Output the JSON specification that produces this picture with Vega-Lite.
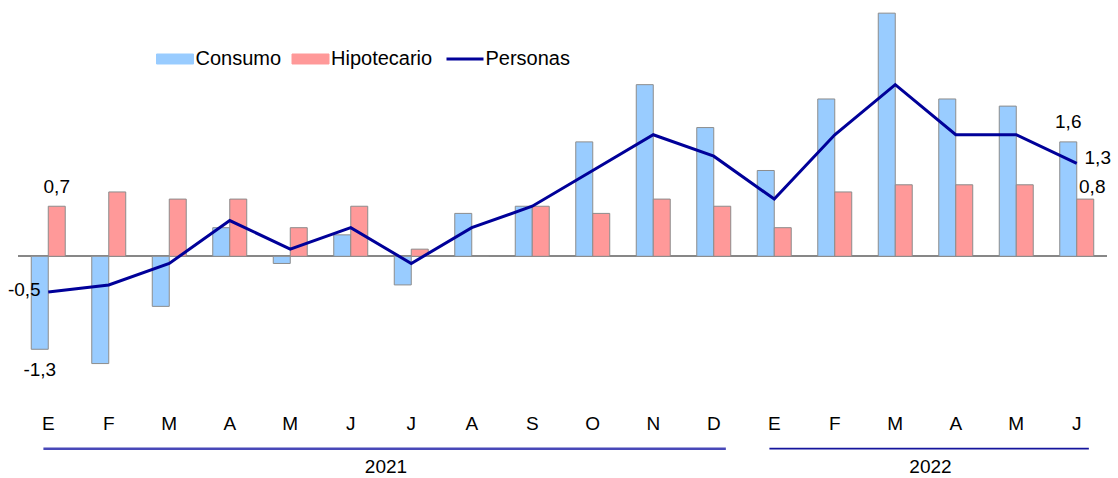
{
  "$schema": "https://vega.github.io/schema/vega-lite/v6.json",
  "width": 1089,
  "height": 472,
  "autosize": "none",
  "padding": {"left": 18, "top": 6, "right": 11, "bottom": 0},
  "config": {
    "view": {"stroke": null},
    "font": "Liberation Sans",
    "locale": {"number": {"decimal": ",", "thousands": ".", "grouping": [3], "currency": ["", " €"], "minus": "-"}}
  },
  "datasets": {
    "meses": [
      {"t": "2021-01", "letra": "E", "Consumo": -1.3, "Hipotecario": 0.7, "Personas": -0.5},
      {"t": "2021-02", "letra": "F", "Consumo": -1.5, "Hipotecario": 0.9, "Personas": -0.4},
      {"t": "2021-03", "letra": "M", "Consumo": -0.7, "Hipotecario": 0.8, "Personas": -0.1},
      {"t": "2021-04", "letra": "A", "Consumo": 0.4, "Hipotecario": 0.8, "Personas": 0.5},
      {"t": "2021-05", "letra": "M", "Consumo": -0.1, "Hipotecario": 0.4, "Personas": 0.1},
      {"t": "2021-06", "letra": "J", "Consumo": 0.3, "Hipotecario": 0.7, "Personas": 0.4},
      {"t": "2021-07", "letra": "J", "Consumo": -0.4, "Hipotecario": 0.1, "Personas": -0.1},
      {"t": "2021-08", "letra": "A", "Consumo": 0.6, "Hipotecario": 0.0, "Personas": 0.4},
      {"t": "2021-09", "letra": "S", "Consumo": 0.7, "Hipotecario": 0.7, "Personas": 0.7},
      {"t": "2021-10", "letra": "O", "Consumo": 1.6, "Hipotecario": 0.6, "Personas": 1.2},
      {"t": "2021-11", "letra": "N", "Consumo": 2.4, "Hipotecario": 0.8, "Personas": 1.7},
      {"t": "2021-12", "letra": "D", "Consumo": 1.8, "Hipotecario": 0.7, "Personas": 1.4},
      {"t": "2022-01", "letra": "E", "Consumo": 1.2, "Hipotecario": 0.4, "Personas": 0.8},
      {"t": "2022-02", "letra": "F", "Consumo": 2.2, "Hipotecario": 0.9, "Personas": 1.7},
      {"t": "2022-03", "letra": "M", "Consumo": 3.4, "Hipotecario": 1.0, "Personas": 2.4},
      {"t": "2022-04", "letra": "A", "Consumo": 2.2, "Hipotecario": 1.0, "Personas": 1.7},
      {"t": "2022-05", "letra": "M", "Consumo": 2.1, "Hipotecario": 1.0, "Personas": 1.7},
      {"t": "2022-06", "letra": "J", "Consumo": 1.6, "Hipotecario": 0.8, "Personas": 1.3}
    ],
    "anios": [
      {"anio": "2021", "desde": "2021-01", "hasta": "2021-12", "centro": "2021-07"},
      {"anio": "2022", "desde": "2022-01", "hasta": "2022-06", "centro": "2022-04"}
    ]
  },
  "encoding": {
    "x": {"field": "t", "type": "nominal", "axis": null, "scale": {"paddingInner": 0, "paddingOuter": 0}}
  },
  "layer": [
    {
      "data": {"name": "meses"},
      "mark": {"type": "rule", "color": "#888888", "strokeWidth": 1},
      "encoding": {"x": null, "y": {"datum": 0, "type": "quantitative", "axis": null, "scale": {"domain": [-3.1, 3.5], "nice": false, "zero": false}}}
    },
    {
      "data": {"name": "meses"},
      "transform": [{"fold": ["Consumo", "Hipotecario"], "as": ["serie", "valor"]}],
      "mark": {"type": "bar", "stroke": "#8c8c8c", "strokeWidth": 1},
      "encoding": {
        "xOffset": {"field": "serie", "type": "nominal", "scale": {"domain": ["Consumo", "Hipotecario"], "paddingInner": 0, "paddingOuter": 0.78}},
        "y": {"field": "valor", "type": "quantitative"},
        "color": {
          "field": "serie",
          "type": "nominal",
          "scale": {"domain": ["Consumo", "Hipotecario", "Personas"], "range": ["#99ccff", "#ff9999", "#000099"]},
          "legend": {
            "title": null,
            "orient": "none",
            "legendX": 147,
            "legendY": 43,
            "direction": "horizontal",
            "padding": 0,
            "labelFont": "Liberation Sans",
            "labelFontSize": 20,
            "labelColor": "#000000",
            "labelOffset": 10.5,
            "columnPadding": 7.5,
            "symbolSize": 1369,
            "symbolOpacity": 1,
            "symbolType": {"expr": "datum.value === 'Personas' ? 'stroke' : 'M-1,-0.27H1V0.27H-1Z'"},
            "symbolStrokeColor": {"expr": "datum.value === 'Personas' ? '#000099' : '#8c8c8c'"},
            "symbolStrokeWidth": {"expr": "datum.value === 'Personas' ? 3 : 1"}
          }
        }
      }
    },
    {
      "data": {"name": "meses"},
      "mark": {"type": "line", "strokeWidth": 3},
      "encoding": {
        "y": {"field": "Personas", "type": "quantitative"},
        "color": {"datum": "Personas", "type": "nominal"}
      }
    },
    {
      "data": {"name": "meses"},
      "transform": [
        {"filter": "datum.t === '2021-01' || datum.t === '2022-06'"},
        {"fold": ["Consumo", "Hipotecario"], "as": ["serie", "valor"]}
      ],
      "mark": {
        "type": "text",
        "fontSize": 19,
        "color": "#000000",
        "baseline": "middle",
        "dx": {"expr": "datum.serie === 'Hipotecario' && datum.t === '2022-06' ? 7 : 0"},
        "dy": {"expr": "datum.valor < 0 ? 21 : (datum.serie === 'Consumo' ? -20 : (datum.t === '2022-06' ? -12 : -19))"}
      },
      "encoding": {
        "xOffset": {"field": "serie", "type": "nominal"},
        "y": {"field": "valor", "type": "quantitative"},
        "text": {"field": "valor", "type": "quantitative", "format": ".1f"}
      }
    },
    {
      "data": {"name": "meses"},
      "transform": [{"filter": "datum.t === '2021-01' || datum.t === '2022-06'"}],
      "mark": {
        "type": "text",
        "fontSize": 19,
        "color": "#000000",
        "baseline": "middle",
        "dx": {"expr": "datum.t === '2021-01' ? -24 : 21"},
        "dy": {"expr": "datum.t === '2021-01' ? -2 : -5"}
      },
      "encoding": {
        "y": {"field": "Personas", "type": "quantitative"},
        "text": {"field": "Personas", "type": "quantitative", "format": ".1f"}
      }
    },
    {
      "data": {"name": "meses"},
      "mark": {"type": "text", "fontSize": 19, "color": "#000000", "baseline": "middle"},
      "encoding": {
        "y": {"datum": -2.35, "type": "quantitative"},
        "text": {"field": "letra", "type": "nominal"}
      }
    },
    {
      "data": {"name": "anios"},
      "mark": {"type": "rule"},
      "encoding": {
        "x": {"field": "desde", "type": "nominal", "bandPosition": 0.42},
        "x2": {"field": "hasta", "bandPosition": 0.7},
        "y": {"datum": -2.69, "type": "quantitative"},
        "stroke": {"condition": {"test": "datum.anio === '2021'", "value": "#4848b8"}, "value": "#14149c"},
        "strokeWidth": {"condition": {"test": "datum.anio === '2021'", "value": 2.5}, "value": 1.8}
      }
    },
    {
      "data": {"name": "anios"},
      "mark": {"type": "text", "fontSize": 19, "color": "#000000", "baseline": "middle", "dx": 5},
      "encoding": {
        "x": {"field": "centro", "type": "nominal", "bandPosition": 0},
        "y": {"datum": -2.95, "type": "quantitative"},
        "text": {"field": "anio", "type": "nominal"}
      }
    }
  ]
}
